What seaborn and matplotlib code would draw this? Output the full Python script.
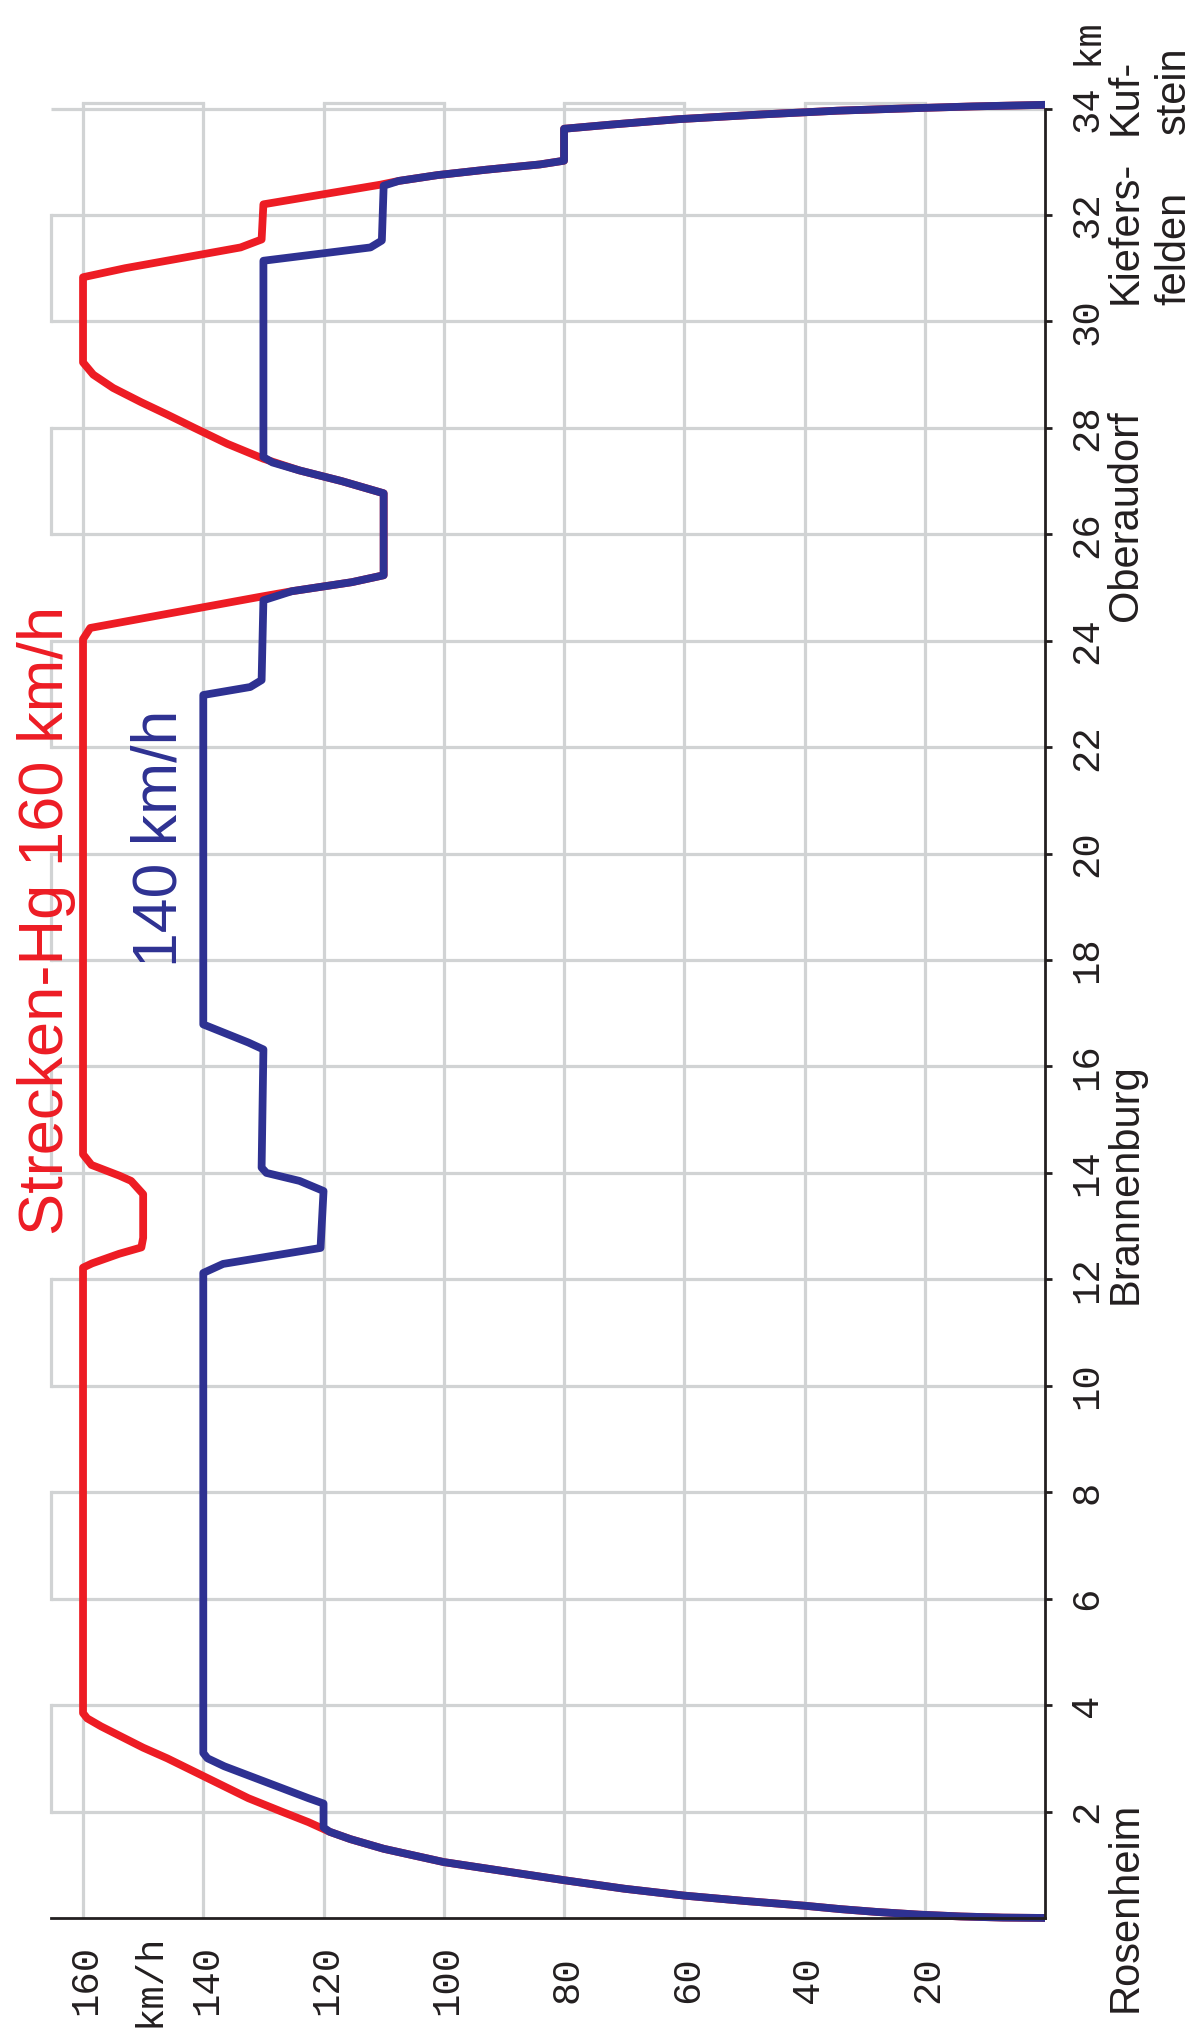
import matplotlib
matplotlib.use("Agg")
import matplotlib.pyplot as plt
import seaborn as sns
import pandas as pd

# ---------------- data ----------------
red_km = [0, 0.007, 0.028, 0.063, 0.113, 0.166, 0.23, 0.32, 0.42, 0.55, 0.71, 0.88, 1.05, 1.3, 1.48, 1.62, 1.8, 2.0, 2.25,
          2.5, 2.75, 3.0, 3.2, 3.4, 3.6, 3.75, 3.85,
          12.22, 12.3, 12.48, 12.6, 12.78, 13.6, 13.85, 13.95, 14.15, 14.35,
          24.03, 24.24, 24.82, 24.93, 25.1, 25.23,
          26.77, 27.0, 27.2, 27.42, 27.7, 28.0, 28.25, 28.48, 28.75, 29.0, 29.23,
          30.83, 31.0, 31.39, 31.54, 32.2, 32.57, 32.64, 32.75, 32.85, 32.95, 33.02,
          33.62, 33.70, 33.80, 33.89, 33.96, 34.01, 34.04, 34.07]
red_v = [0, 7, 14, 21, 28, 34, 40, 50, 60, 70, 80, 90, 100, 110, 115.5, 119, 122.5, 127, 132.5,
         137, 141.5, 146, 150, 153.5, 157, 159.3, 160,
         160, 158.5, 154, 150.3, 150, 150, 152, 154, 158.6, 160,
         160, 158.8, 130.8, 125.3, 115.3, 110,
         110, 117, 124, 130, 136, 141.5, 146, 150.3, 155, 158.3, 160,
         160, 153, 133.8, 130.3, 130, 110.5, 107.5, 101, 93, 84, 80,
         80, 72, 61, 47, 34.5, 21, 12, 0]

blue_km = [0, 0.007, 0.028, 0.063, 0.113, 0.166, 0.23, 0.32, 0.42, 0.55, 0.71, 0.88, 1.05, 1.3, 1.48, 1.62, 1.7,
           2.15, 2.25, 2.85, 3.0, 3.1,
           12.12, 12.29, 12.59, 13.66, 13.85, 14.0, 14.1,
           16.32, 16.45, 16.79, 22.98, 23.13, 23.26,
           24.76, 24.93, 25.1, 25.23, 26.77, 27.0, 27.2, 27.35, 27.45,
           31.14, 31.39, 31.52, 32.55, 32.64, 32.75, 32.85, 32.95, 33.02,
           33.62, 33.70, 33.80, 33.89, 33.96, 34.01, 34.04, 34.07]
blue_v = [0, 7, 14, 21, 28, 34, 40, 50, 60, 70, 80, 90, 100, 110, 115.5, 119, 120,
          120, 122.5, 136.5, 139.3, 140,
          140, 136.7, 120.5, 120, 124, 129.5, 130.3,
          130, 132.5, 140, 140, 132.2, 130.3,
          130, 125.3, 115.3, 110, 110, 117, 124, 128.5, 130,
          130, 112.2, 110.3, 110, 107.5, 101, 93, 84, 80,
          80, 72, 61, 47, 34.5, 21, 12, 0]

km_ticks = list(range(2, 35, 2))
speed_ticks = [20, 40, 60, 80, 100, 120, 140, 160]
km_bands = [2, 6, 10, 14, 18, 22, 26, 30]          # boxes on the left edge
speed_bands = [160, 120, 80, 40]                   # boxes on the top edge

stations = [("Rosenheim", 0.21, 0), ("Brannenburg", 13.79, 0), ("Oberaudorf", 26.35, 0),
            ("Kiefers-", 31.68, 0), ("felden", 31.38, 1), ("Kuf-", 34.22, 0), ("stein", 34.35, 1)]

title_red = "Strecken-Hg 160 km/h"
title_blue = "140 km/h"

RED = "#ED1C24"
BLUE = "#2E3192"
GRID = "#D1D3D4"
INK = "#231F20"

# ---------------- figure ----------------
sns.set_style("white")
plt.rcParams['font.family'] = ['Liberation Sans', 'DejaVu Sans']

fig = plt.figure(figsize=(11.91, 20.42), dpi=100)
ax = fig.add_axes([0.019228, 0.05553, 0.85823, 0.90695])

VMAX_BOX = 165.3
KM_BOX = 34.107

# grid
ax.vlines(speed_ticks, 0, KM_BOX, color=GRID, lw=2.3, zorder=1)
ax.hlines(km_ticks, 0, VMAX_BOX, color=GRID, lw=2.3, zorder=1)
for k in km_bands:
    ax.plot([VMAX_BOX, VMAX_BOX], [k, k + 2], color=GRID, lw=2.3, zorder=1, solid_capstyle='projecting')
for s in speed_bands:
    ax.plot([s, s - 20], [KM_BOX, KM_BOX], color=GRID, lw=2.3, zorder=1, solid_capstyle='projecting')

df_red = pd.DataFrame({"speed": red_v, "km": red_km})
df_blue = pd.DataFrame({"speed": blue_v, "km": blue_km})
sns.lineplot(data=df_red, x="speed", y="km", sort=False, estimator=None, color=RED, lw=5.6,
             ax=ax, zorder=3, solid_capstyle='butt')
sns.lineplot(data=df_blue, x="speed", y="km", sort=False, estimator=None, color=BLUE, lw=5.6,
             ax=ax, zorder=4, solid_capstyle='butt')

ax.set_xlim(170, 0)
ax.set_ylim(-0.2, 34.6)
ax.set_xlabel("")
ax.set_ylabel("")

# spines / axes
for sp in ["top", "left"]:
    ax.spines[sp].set_visible(False)
ax.spines["right"].set_position(("data", 0))
ax.spines["right"].set_bounds(0, 34)
ax.spines["bottom"].set_position(("data", 0))
ax.spines["bottom"].set_bounds(0, VMAX_BOX)
for sp in ["right", "bottom"]:
    ax.spines[sp].set_color(INK)
    ax.spines[sp].set_linewidth(2.0)
    ax.spines[sp].set_zorder(5)

ax.yaxis.set_ticks_position("right")
ax.set_yticks(km_ticks)
ax.set_yticklabels([])
ax.set_xticks(speed_ticks)
ax.set_xticklabels([])
ax.tick_params(axis="both", direction="out", length=5, width=2.0, color=INK)
ax.grid(False)

mono = dict(family=['Liberation Mono', 'DejaVu Sans Mono'], fontsize=28, color=INK,
            rotation=90, rotation_mode='anchor', ha='center', va='baseline', clip_on=False)
for k in km_ticks:
    ax.text(-8.65, k, str(k), **mono)
ax.text(-8.65, 35.25, "km", **mono)
for s in speed_ticks:
    ax.text(s - 2.25, -1.165, str(s), **mono)
ax.text(147.2, -1.165, "km/h", **mono)

sans = dict(family=['Liberation Sans', 'DejaVu Sans'], fontsize=30, color=INK,
            rotation=90, rotation_mode='anchor', ha='center', va='baseline', clip_on=False)
for name, km, line in stations:
    ax.text(-15.3 - 8.0 * line, km, name, **sans)

ax.text(163.4, 18.75, title_red, family=['Liberation Sans', 'DejaVu Sans'], fontsize=45.5, color=RED,
        rotation=90, rotation_mode='anchor', ha='center', va='baseline', clip_on=False, zorder=6)
ax.text(144.4, 20.29, title_blue, family=['Liberation Sans', 'DejaVu Sans'], fontsize=45, color=BLUE,
        rotation=90, rotation_mode='anchor', ha='center', va='baseline', clip_on=False, zorder=6)

fig.savefig("out.png", dpi=100)
